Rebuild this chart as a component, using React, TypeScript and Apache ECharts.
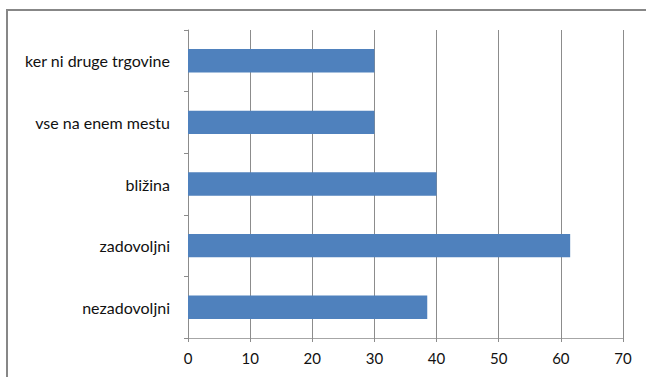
import React, { useEffect, useRef } from "react";
import * as echarts from "echarts";

const categories = ["nezadovoljni", "zadovoljni", "bližina", "vse na enem mestu", "ker ni druge trgovine"];
const values = [38.5, 61.5, 40, 30, 30];
const xTicks = [0, 10, 20, 30, 40, 50, 60, 70];

export default function App() {
  const ref = useRef<HTMLDivElement>(null);
  useEffect(() => {
    const chart = echarts.init(ref.current!, null, { renderer: "svg" });
    chart.setOption({
      animation: false,
      backgroundColor: "#ffffff",
      textStyle: { fontFamily: "Lato, 'Open Sans', sans-serif" },
      graphic: [
        {
          type: "rect",
          shape: { x: 7, y: 10, width: 700, height: 420 },
          style: { fill: "none", stroke: "#878787", lineWidth: 2 },
          silent: true,
        },
      ],
      grid: { left: 188, right: 23, top: 30, bottom: 39, containLabel: false },
      xAxis: {
        type: "value",
        min: xTicks[0],
        max: xTicks[xTicks.length - 1],
        interval: 10,
        axisLine: { show: true, lineStyle: { color: "#a6a6a6", width: 1 } },
        axisTick: { show: true, length: 4, lineStyle: { color: "#8c8c8c" } },
        splitLine: { show: true, lineStyle: { color: "#8c8c8c", width: 1 } },
        axisLabel: { color: "#111111", fontSize: 15, margin: 12 },
      },
      yAxis: {
        type: "category",
        data: categories,
        axisLine: { show: true, lineStyle: { color: "#8c8c8c", width: 1 } },
        axisTick: { show: true, length: 4, lineStyle: { color: "#8c8c8c" } },
        axisLabel: { color: "#111111", fontSize: 16, margin: 18 },
      },
      series: [
        {
          type: "bar",
          data: values,
          barCategoryGap: "62%",
          itemStyle: { color: "#4f81bd" },
        },
      ],
    });
    return () => chart.dispose();
  }, []);
  return (
    <div
      ref={ref}
      style={{ position: "fixed", left: 0, top: 0, width: 646, height: 377 }}
    />
  );
}
